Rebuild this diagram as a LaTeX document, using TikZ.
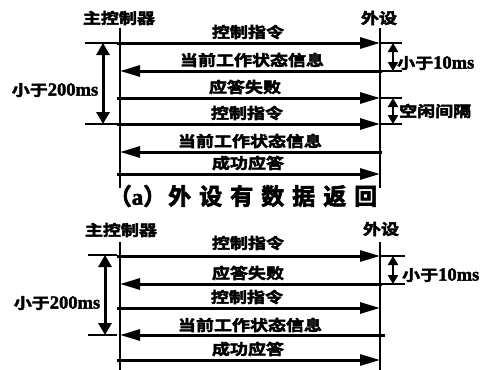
\documentclass[tikz,border=0pt]{standalone}
\usepackage{fontspec}
\usepackage{graphicx}
\usetikzlibrary{arrows.meta}
\newfontfamily\cjk[FakeStretch=1.2,FakeBold=3]{Noto Sans CJK SC Bold}
\newfontfamily\cjkcap[FakeBold=3]{Noto Sans CJK SC Bold}
\newfontfamily\lat[FakeBold=2]{Liberation Serif Bold}
\newcommand{\num}[1]{{\lat\fontsize{18.5}{18.5}\selectfont #1}}
\begin{document}
\begin{tikzpicture}[x=1pt,y=-1pt,
  lbl/.style={font=\cjk\fontsize{15}{15}\selectfont, inner sep=0pt},
  captxt/.style={font=\cjkcap\fontsize{23}{23}\selectfont, inner sep=0pt},
  life/.style={line width=2pt},
  msg/.style={line width=3pt, -{Triangle[length=20pt,width=11pt]}},
  brk/.style={line width=1.6pt},
  dimL/.style={line width=3pt, {Triangle[length=12pt,width=13pt]}-{Triangle[length=12pt,width=13pt]}},
  dimS/.style={line width=2.5pt, {Triangle[length=9pt,width=10pt]}-{Triangle[length=9pt,width=10pt]}}]
\useasboundingbox (0,0) rectangle (483,370);
% ===== (a) =====
\node[lbl] (ha) at (119,18) {主控制器};
\node[lbl] (pa) at (379,18) {外设};
\coordinate (la1) at (120,28); \coordinate (la2) at (120,188);
\coordinate (ra1) at (380,28); \coordinate (ra2) at (380,188);
\draw[life] (la1) -- (la2);
\draw[life] (ra1) -- (ra2);
% messages
\foreach \n/\y in {1/43,2/71,3/98,4/124,5/152,6/174}{
  \coordinate (aL\n) at (117,\y); \coordinate (aR\n) at (380,\y);
  \coordinate (aLt\n) at (120,\y); \coordinate (aRs\n) at (382,\y);
}
\draw[msg] (aL1) -- (aR1);
\draw[msg] (aRs2) -- (aLt2);
\draw[msg] (aL3) -- (aR3);
\draw[msg] (aL4) -- (aR4);
\draw[msg] (aRs5) -- (aLt5);
\draw[msg] (aL6) -- (aR6);
\node[lbl] (ta1) at (248,32) {控制指令};
\node[lbl] (ta2) at (252,60) {当前工作状态信息};
\node[lbl] (ta3) at (245,87) {应答失败};
\node[lbl] (ta4) at (247,113) {控制指令};
\node[lbl] (ta5) at (250,141) {当前工作状态信息};
\node[lbl] (ta6) at (248,163) {成功应答};
% left bracket
\coordinate (abl1) at (85,43); \coordinate (abl2) at (85,124);
\draw[brk] (abl1) -- (aL1);
\draw[brk] (abl2) -- (aL4);
\coordinate (adl1) at (103,43); \coordinate (adl2) at (103,124);
\draw[dimL] (adl1) -- (adl2);
\node[lbl] (a200) at (55,90) {小于\num{200ms}};
% right brackets
\coordinate (abr1) at (402,43); \coordinate (abr2) at (402,71);
\coordinate (abr3) at (402,98); \coordinate (abr4) at (402,124);
\draw[brk] (aR1) -- (abr1);
\draw[brk] (aR2) -- (abr2);
\draw[brk] (aR3) -- (abr3);
\draw[brk] (aR4) -- (abr4);
\coordinate (adr1) at (393,43); \coordinate (adr2) at (393,71);
\coordinate (adr3) at (393,98); \coordinate (adr4) at (393,124);
\draw[dimS] (adr1) -- (adr2);
\draw[dimS] (adr3) -- (adr4);
\node[lbl,anchor=west] (a10) at (397,63) {小于\num{10ms}};
\node[lbl,anchor=west] (agap) at (399,111) {空闲间隔};
% caption
\node[captxt] (capa) at (243,196) {（{\lat a}）\hspace{2pt}外\hspace{8pt}设\hspace{8pt}有\hspace{8pt}数\hspace{8pt}据\hspace{8pt}返\hspace{8pt}回};
% ===== (b) =====
\node[lbl] (hb) at (121,230) {主控制器};
\node[lbl] (pb) at (381,229) {外设};
\coordinate (lb1) at (120,242); \coordinate (lb2) at (120,372);
\coordinate (rb1) at (380,242); \coordinate (rb2) at (380,372);
\draw[life] (lb1) -- (lb2);
\draw[life] (rb1) -- (rb2);
\foreach \n/\y in {1/256,2/284,3/308,4/335,5/360}{
  \coordinate (bL\n) at (117,\y); \coordinate (bR\n) at (380,\y);
  \coordinate (bLt\n) at (120,\y); \coordinate (bRs\n) at (382,\y);
}
\coordinate (bRx4) at (385,335);
\draw[msg] (bL1) -- (bR1);
\draw[msg] (bRs2) -- (bLt2);
\draw[msg] (bL3) -- (bR3);
\draw[msg] (bRx4) -- (bLt4);
\draw[msg] (bL5) -- (bR5);
\node[lbl] (tb1) at (248,243) {控制指令};
\node[lbl] (tb2) at (248,273) {应答失败};
\node[lbl] (tb3) at (247,297) {控制指令};
\node[lbl] (tb4) at (250,325) {当前工作状态信息};
\node[lbl] (tb5) at (248,349) {成功应答};
% left bracket
\coordinate (bbl1) at (88,255); \coordinate (bbl2) at (88,335);
\coordinate (bbe1) at (117,255);
\draw[brk] (bbl1) -- (bbe1);
\draw[brk] (bbl2) -- (bL4);
\coordinate (bdl1) at (105,255); \coordinate (bdl2) at (105,335);
\draw[dimL] (bdl1) -- (bdl2);
\node[lbl] (b200) at (57,303) {小于\num{200ms}};
% right bracket
\coordinate (bbr1) at (405,256); \coordinate (bbr2) at (405,284);
\draw[brk] (bR1) -- (bbr1);
\draw[brk] (bR2) -- (bbr2);
\coordinate (bdr1) at (393,256); \coordinate (bdr2) at (393,284);
\draw[dimS] (bdr1) -- (bdr2);
\node[lbl,anchor=west] (b10) at (402,275) {小于\num{10ms}};
\end{tikzpicture}
\end{document}
